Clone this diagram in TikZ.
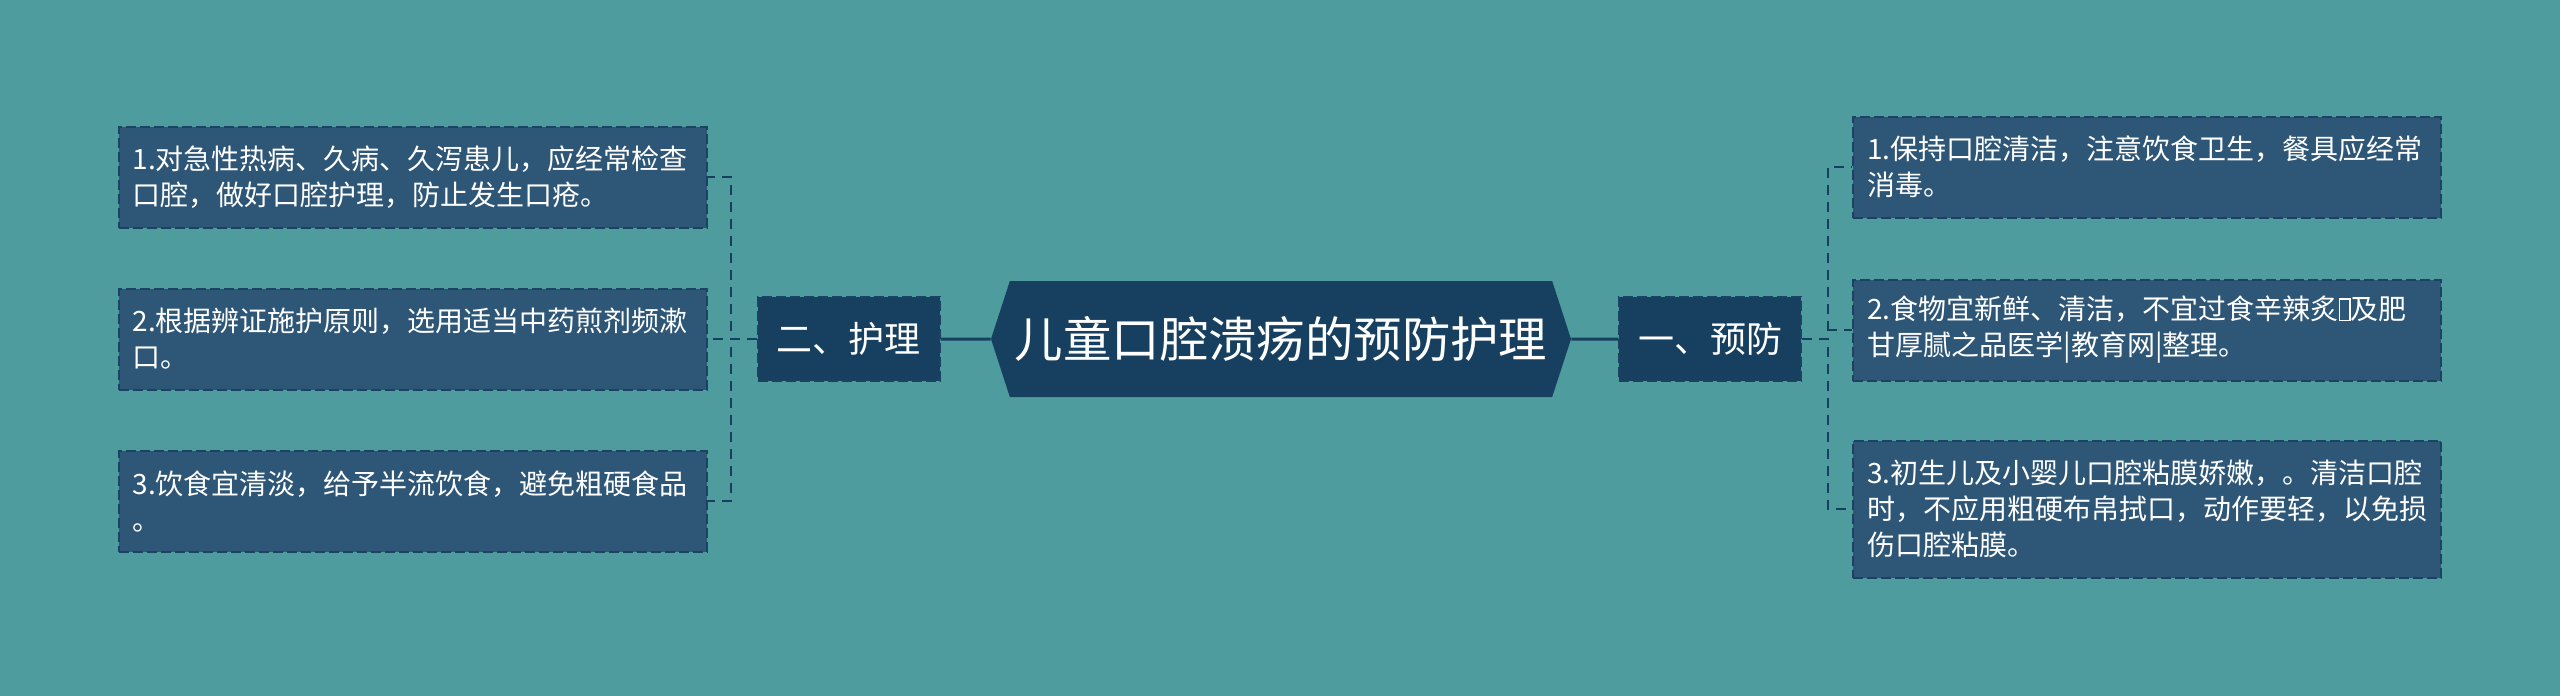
\documentclass[tikz,border=0pt]{standalone}
\usepackage{fontspec}
\newfontfamily\cjk{Noto Sans CJK SC}
\usetikzlibrary{positioning,shapes.symbols}
\definecolor{Bg}{HTML}{4E9C9D}
\definecolor{Leaf}{HTML}{2E5677}
\definecolor{Deep}{HTML}{173F5F}
\definecolor{Edge}{HTML}{1B4262}
\newcommand\tofu{{\fboxsep=0pt\fboxrule=0.7pt\fbox{\rule{0pt}{0.72em}\hspace{0.32em}}}}

\begin{document}
\begin{tikzpicture}[x=0.5pt, y=-0.5pt,
  root/.style={signal, signal to=west and east, signal pointer angle=144, fill=Deep, text=white, inner sep=0pt, minimum width=290pt, minimum height=58pt, font=\cjk\fontsize{24.2}{29}\selectfont},
  branch/.style={fill=Deep, draw=Edge, line width=1pt, dash pattern=on 5pt off 2pt, text=white, inner sep=0pt, minimum width=91pt, minimum height=42pt, font=\cjk\fontsize{18}{22}\selectfont},
  leaf/.style={fill=Leaf, draw=Edge, line width=1pt, dash pattern=on 5pt off 2pt, text=white, align=left, text width=280pt, inner xsep=7pt, inner ysep=0pt, minimum height=50.5pt, font=\cjk\fontsize{14}{18}\selectfont},
  link/.style={draw=Deep, line width=1pt, dash pattern=on 5pt off 3.5pt},
  stem/.style={draw=Deep, line width=1.5pt} ]

\fill[Bg] (0,0) rectangle (2560,696);

\node[root] (root) at (1281,339) {儿童口腔溃疡的预防护理};

\node[branch, right=23.5pt of root] (yf) {一、预防};
\node[branch, left=25pt of root] (hl) {二、护理};

\draw[stem] (root) -- (yf);
\draw[stem] (root) -- (hl);

\node[leaf, right=25pt of yf, yshift=4.5pt] (yf2) {2.食物宜新鲜、清洁，不宜过食辛辣炙\tofu{}及肥\\甘厚腻之品医学|教育网|整理。};
\node[leaf, above=30pt of yf2] (yf1) {1.保持口腔清洁，注意饮食卫生，餐具应经常\\消毒。};
\node[leaf, below=29pt of yf2, minimum height=68.5pt] (yf3) {3.初生儿及小婴儿口腔粘膜娇嫩，。清洁口腔\\时，不应用粗硬布帛拭口，动作要轻，以免损\\伤口腔粘膜。};

\node[leaf, left=24.5pt of hl] (hl2) {2.根据辨证施护原则，选用适当中药煎剂频漱\\口。};
\node[leaf, above=29.5pt of hl2] (hl1) {1.对急性热病、久病、久泻患儿，应经常检查\\口腔，做好口腔护理，防止发生口疮。};
\node[leaf, below=29.5pt of hl2] (hl3) {3.饮食宜清淡，给予半流饮食，避免粗硬食品\\。};

\foreach \i in {1,2,3} {
  \draw[link] (yf.east) -- ++(26,0) |- (yf\i.west);
  \draw[link] (hl.west) -- ++(-26,0) |- (hl\i.east);
}

\end{tikzpicture}
\end{document}
